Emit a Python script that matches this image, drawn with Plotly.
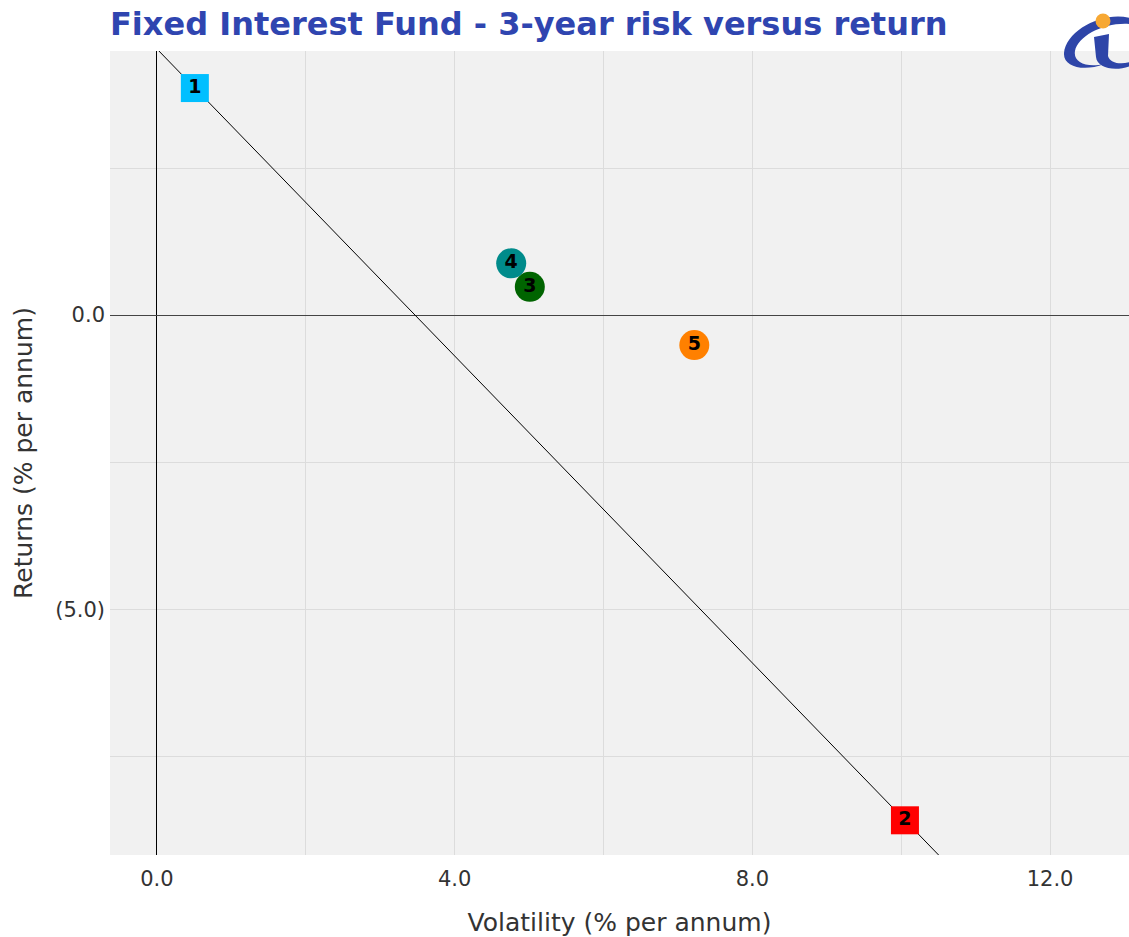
import plotly.graph_objects as go
import base64

# ---- data ----
labels = ["1", "2", "3", "4", "5"]
volatility = [0.51, 10.05, 5.01, 4.76, 7.22]
returns = [3.86, -8.59, 0.48, 0.88, -0.51]
colors = ["#00BFFF", "#FF0000", "#006400", "#008B8B", "#FF8000"]
symbols = ["square", "square", "circle", "circle", "circle"]
sizes = [28, 28, 30, 30, 30]

x_tickvals = [0, 4, 8, 12]
x_ticktext = ["0.0", "4.0", "8.0", "12.0"]
y_tickvals = [0, -5]
y_ticktext = ["0.0", "(5.0)"]

x_range = [-0.63, 13.06]
y_range = [-9.18, 4.49]

title_text = "Fixed Interest Fund - 3-year risk versus return"
x_title = "Volatility (% per annum)"
y_title = "Returns (% per annum)"

# line through points 1 and 2 (extended)
x1, y1 = volatility[0], returns[0]
x2, y2 = volatility[1], returns[1]
slope = (y2 - y1) / (x2 - x1)
line_x = [-1.0, 14.0]
line_y = [y1 + slope * (lx - x1) for lx in line_x]

W, H = 1129, 937
L, R, T, B = 110, 0, 51, 82
PW, PH = W - L - R, H - T - B

fig = go.Figure()
fig.add_trace(go.Scatter(x=line_x, y=line_y, mode="lines",
                         line=dict(color="black", width=1), hoverinfo="skip",
                         showlegend=False))
fig.add_trace(go.Scatter(
    x=volatility, y=returns, mode="markers+text", text=labels,
    textposition="middle center",
    textfont=dict(family="DejaVu Sans", size=19, color="black", weight="bold"),
    marker=dict(color=colors, symbol=symbols, size=sizes, opacity=1, line=dict(width=0)),
    showlegend=False))

logo_svg = """<svg xmlns='http://www.w3.org/2000/svg' width='70' height='70' viewBox='0 0 70 70'>
<path d='M 70 13 C 42 6, 6 26, 4 48 C 3 62, 24 67, 44 59 C 26 63, 13 57, 15 46 C 18 31, 44 17, 70 19 Z' fill='#2E45A8'/>
<path d='M 34 32 L 49 29 L 48 51 C 50 58, 60 60, 70 57 L 70 61 C 55 67, 37 63, 36 52 Z' fill='#2E45A8'/>
<circle cx='43' cy='16' r='7.5' fill='#F7A833'/>
</svg>"""
logo_uri = "data:image/svg+xml;base64," + base64.b64encode(logo_svg.encode()).decode()

fig.update_layout(
    width=W, height=H,
    margin=dict(l=L, r=R, t=T, b=B),
    paper_bgcolor="white", plot_bgcolor="#F1F1F1",
    font=dict(family="DejaVu Sans", color="#333333"),
    title=dict(text=title_text, x=L / W, xanchor="left", y=1 - 24 / H,
               yanchor="middle",
               font=dict(family="DejaVu Sans", size=32, color="#2F45B0", weight="bold")),
    xaxis=dict(range=x_range, tickvals=x_tickvals, ticktext=x_ticktext,
               showgrid=True, gridcolor="#DCDCDC", gridwidth=1,
               minor=dict(dtick=2, tick0=0, showgrid=True, gridcolor="#DCDCDC", gridwidth=1),
               zeroline=True, zerolinecolor="black", zerolinewidth=1,
               tickfont=dict(size=21, color="#333333"), ticklabelstandoff=9,
               title=dict(text=x_title, font=dict(size=25, color="#333333"), standoff=25),
               ticks="", showline=False),
    yaxis=dict(range=y_range, tickvals=y_tickvals, ticktext=y_ticktext,
               showgrid=True, gridcolor="#DCDCDC", gridwidth=1,
               minor=dict(dtick=2.5, tick0=0, showgrid=True, gridcolor="#DCDCDC", gridwidth=1),
               zeroline=True, zerolinecolor="#444444", zerolinewidth=1,
               tickfont=dict(size=21, color="#333333"), ticklabelstandoff=4,
               title=dict(text=y_title, font=dict(size=25, color="#333333"), standoff=15),
               ticks="", showline=False),
    images=[dict(source=logo_uri, xref="paper", yref="paper",
                 x=(1060 - L) / PW, y=1 + (T - 5) / PH,
                 sizex=70 / PW, sizey=70 / PH, xanchor="left", yanchor="top",
                 layer="above", sizing="stretch")],
)

fig.write_html("out.html",
               config={"displayModeBar": False},
               post_script="document.body.style.margin='0';document.body.style.overflow='hidden';")
